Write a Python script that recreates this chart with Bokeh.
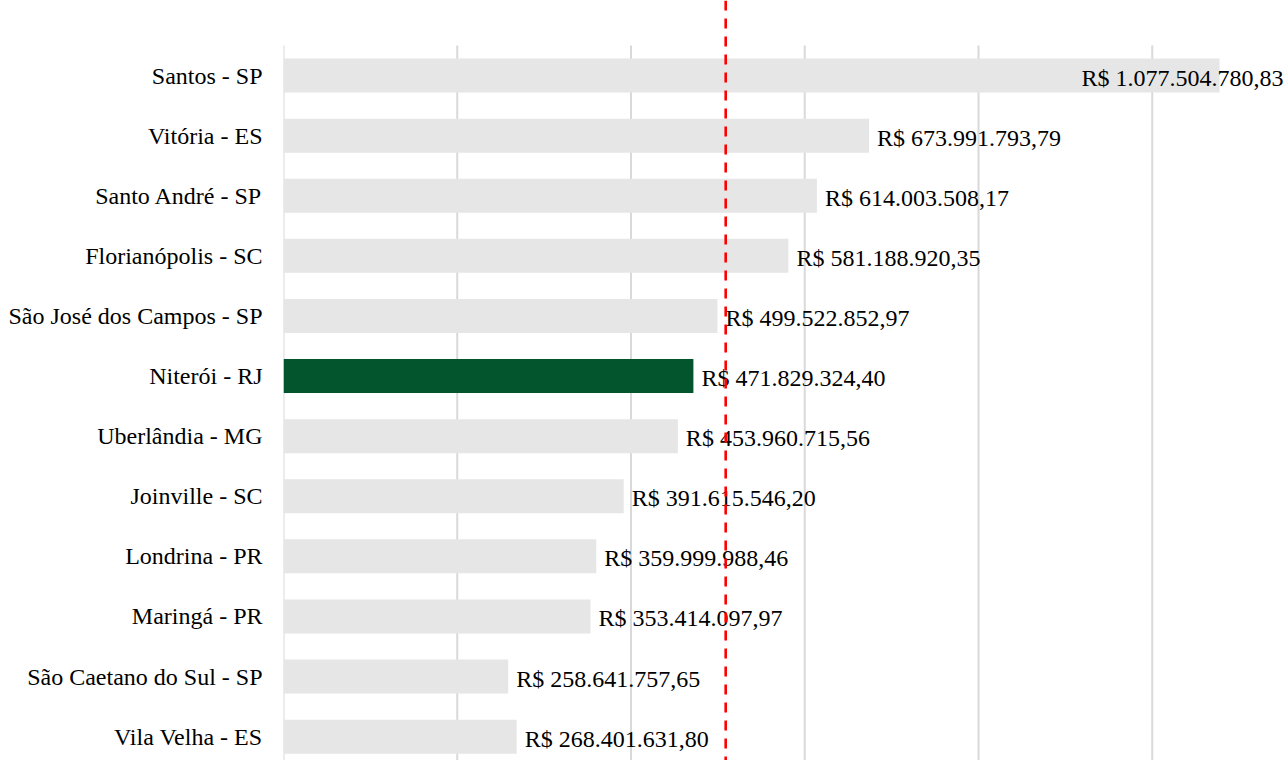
from bokeh.plotting import figure
from bokeh.models import Range1d, FixedTicker, Span, ColumnDataSource
from bokeh.core.properties import value
from bokeh.embed import file_html
from bokeh.resources import INLINE

# ---- data ----
cities = [
    "Santos - SP", "Vitória - ES", "Santo André - SP", "Florianópolis - SC",
    "São José dos Campos - SP", "Niterói - RJ", "Uberlândia - MG",
    "Joinville - SC", "Londrina - PR", "Maringá - PR",
    "São Caetano do Sul - SP", "Vila Velha - ES",
]
values = [
    1077504780.83, 673991793.79, 614003508.17, 581188920.35,
    499522852.97, 471829324.40, 453960715.56, 391615546.20,
    359999988.46, 353414097.97, 258641757.65, 268401631.80,
]
highlight = "Niterói - RJ"
reference_value = 509e6          # red dashed reference line
grid_values = [0, 200e6, 400e6, 600e6, 800e6, 1000e6]

# ---- styling ----
FONT = "Liberation Serif"
BAR_GREY = "#E6E6E6"
BAR_GREEN = "#02552C"
GRID = "#D9D9D9"

def brl(v):
    s = f"{v:,.2f}"
    s = s.replace(",", "X").replace(".", ",").replace("X", ".")
    return "R$ " + s

n = len(cities)
idx = list(range(n))
X_END = 1155.7e6
Y_TOP = -1.249
Y_BOTTOM = 11.397

colors = [BAR_GREEN if c == highlight else BAR_GREY for c in cities]
labels = [brl(v) for v in values]
fits = [v < 0.9 * X_END for v in values]
label_x = [v if f else X_END for v, f in zip(values, fits)]
label_align = ["left" if f else "right" for f in fits]
label_off = [8 if f else -4 for f in fits]

src = ColumnDataSource(dict(y=idx, v=values, color=colors, label=labels,
                            lx=label_x, align=label_align, off=label_off))

p = figure(width=1287, height=760, output_backend="svg", toolbar_location=None,
           x_range=Range1d(0, X_END), y_range=Range1d(Y_BOTTOM, Y_TOP),
           x_axis_location=None, min_border_left=283, min_border_right=0,
           min_border_top=0, min_border_bottom=0)
p.outline_line_color = None
p.grid.visible = False
p.background_fill_color = "white"

# vertical gridlines
p.segment(x0=grid_values, x1=grid_values, y0=[-0.5] * len(grid_values),
          y1=[Y_BOTTOM] * len(grid_values), line_color=GRID, line_width=2)

# bars
p.hbar(y="y", right="v", left=0, height=0.566, color="color", line_color=None,
       source=src)

# data labels
p.text(x="lx", y="y", text="label", text_align="align", x_offset="off",
       y_offset=2, text_baseline="middle", text_font=value(FONT),
       text_font_size="24px", text_color="black", source=src)

# reference line
p.add_layout(Span(location=reference_value, dimension="height",
                  line_color="#FF0000", line_width=2.6, line_dash="10 8"))

# category axis
ax = p.yaxis[0]
ax.ticker = FixedTicker(ticks=idx)
ax.major_label_overrides = {i: c for i, c in enumerate(cities)}
ax.axis_line_color = None
ax.major_tick_line_color = None
ax.minor_tick_line_color = None
ax.major_tick_out = 0
ax.major_tick_in = 0
ax.major_label_standoff = 21
ax.major_label_text_font = FONT
ax.major_label_text_font_size = "24px"
ax.major_label_text_color = "black"

open("out.html", "w").write(file_html(p, INLINE))
